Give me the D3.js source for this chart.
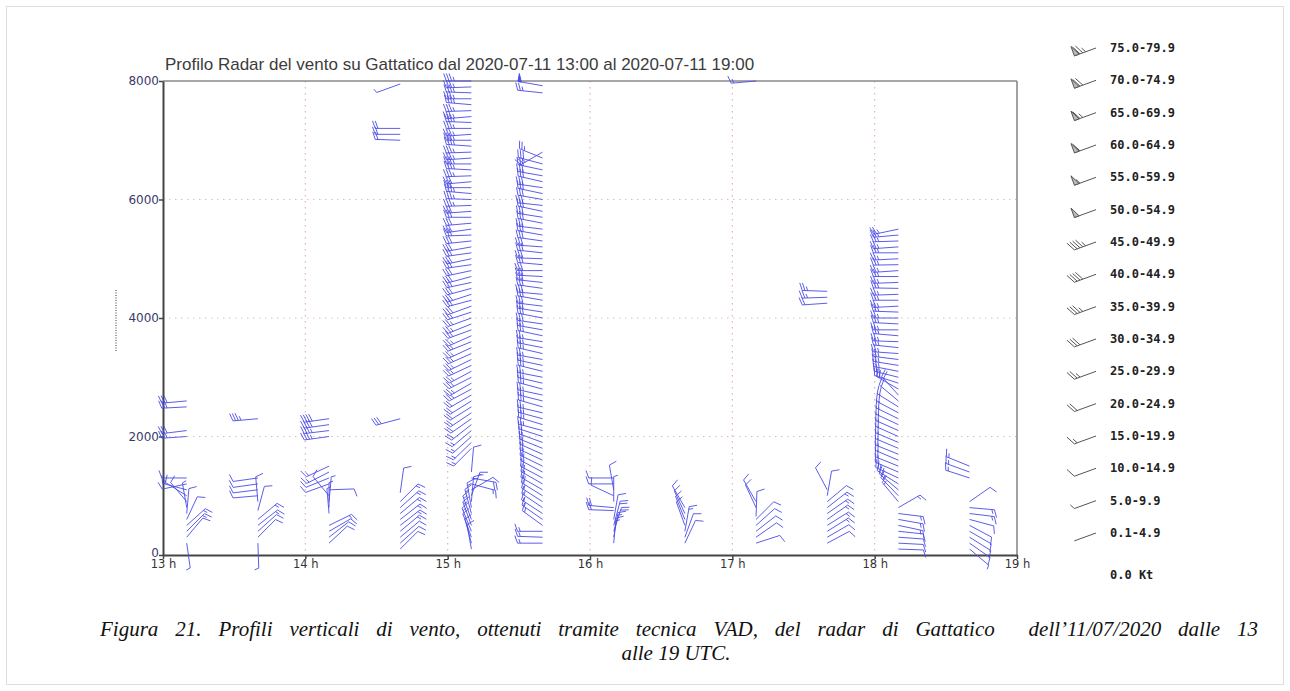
<!DOCTYPE html>
<html>
<head>
<meta charset="utf-8">
<script src="https://cdn.jsdelivr.net/npm/d3@7"></script>
<style>
  body { margin:0; background:#fff; }
  svg { display:block; }
  .tick text { font-family:"DejaVu Sans", sans-serif; }
</style>
</head>
<body>
<svg id="viz" width="1290" height="691"></svg>
<script>
// ---- data: VAD profiles, [height m, direction deg (from), speed kt]
const p1310 = [[2600,265,30],[2500,267,30],[2100,263,30],[2000,266,25],
  [1300,270,10],[1200,258,10],[1100,285,15],[1000,302,10],[900,320,10],[800,350,5],
  [700,5,10],[600,25,10],[500,48,15],[400,45,15],[300,40,10],[200,172,5]];
const p1340 = [[2300,265,35],[1300,262,10],[1200,262,10],[1100,263,10],[1000,265,10],
  [900,355,10],[750,15,10],[600,50,15],[500,52,15],[400,48,10],[300,45,10],[200,178,5]];
const p1410 = [[2300,262,40],[2200,262,40],[2100,263,35],[2000,262,35],
  [1500,245,15],[1400,243,15],[1300,248,10],[1200,250,10],[1100,88,10],[1000,320,10],
  [900,5,5],[800,0,5],[700,355,5],[500,64,15],[400,60,10],[300,52,10],[200,47,10]];
const p1440 = [[7950,250,5],[7200,270,20],[7100,270,20],[7000,272,20],[2300,255,30],
  [1050,8,10],[900,45,15],[800,48,15],[700,50,15],[600,52,15],[500,52,15],[400,50,15],
  [300,50,10],[200,48,10],[100,45,10]];
const p1510 = [[8000,270,35],[7900,268,35],[7800,272,35],[7700,270,35],[7600,275,35],
  [7500,268,35],[7400,265,35],[7300,272,35],[7200,270,35],[7100,266,35],[7000,270,35],
  [6900,274,35],[6800,268,35],[6700,266,35],[6600,270,35],[6500,273,35],[6400,268,35],
  [6300,265,30],[6200,270,30],[6100,275,35],[6000,272,35],[5900,268,35],[5800,266,30],
  [5700,270,30],[5600,265,30],[5500,262,30],[5400,268,30],[5300,264,30],[5200,260,30],
  [5100,262,30],[5000,258,30],[4900,262,30],[4800,258,30],[4700,255,30],[4600,258,30],
  [4500,255,30],[4400,252,30],[4300,255,30],[4200,250,30],[4100,252,25],[4000,250,25],
  [3900,248,25],[3800,250,25],[3700,246,25],[3600,248,25],[3500,245,25],[3400,246,25],
  [3300,244,25],[3200,245,25],[3100,242,25],[3000,243,25],[2900,240,25],[2800,242,25],
  [2700,240,20],[2600,238,20],[2500,238,20],[2400,236,20],[2300,235,20],[2200,232,20],
  [2100,230,15],[2000,228,15],[1900,226,15],[1800,225,15],
  [1400,5,10],[1300,100,20],[1200,105,15],[1100,60,10],[1000,20,15],[900,5,15],
  [800,350,15],[700,345,15],[600,340,15],[500,340,15],[400,338,15],[300,340,10],
  [200,345,10],[100,350,10]];
const p1540 = [[7920,280,50],[7800,276,25],
  [6800,240,25],[6700,292,25],[6600,285,30],[6500,282,30],[6400,280,30],[6300,283,30],
  [6200,278,30],[6100,282,30],[6000,280,30],[5900,276,30],[5800,282,30],[5700,279,30],
  [5600,281,30],[5500,277,30],[5400,280,30],[5300,278,30],[5200,274,30],[5100,276,30],
  [5000,272,30],[4900,275,30],[4800,270,30],[4700,273,30],[4600,276,30],[4500,278,30],
  [4400,275,30],[4300,280,30],[4200,277,30],[4100,279,30],[4000,281,30],[3900,278,30],
  [3800,280,25],[3700,282,25],[3600,279,25],[3500,281,25],[3400,283,25],[3300,280,25],
  [3200,282,25],[3100,284,25],[3000,281,25],[2900,283,25],[2800,285,25],[2700,282,25],
  [2600,284,25],[2500,286,25],[2400,283,25],[2300,285,25],[2200,287,25],[2100,285,25],
  [2000,288,20],[1900,290,20],[1800,292,20],[1700,294,20],[1600,295,20],[1500,296,20],
  [1400,298,20],[1300,298,20],[1200,300,20],[1100,300,20],[1000,302,20],[900,303,15],
  [800,304,15],[700,303,15],[600,305,15],[500,306,15],[400,270,15],[300,272,15],[200,270,15]];
const p1610 = [[1300,270,10],[1200,270,10],[1100,350,10],[1000,295,10],[900,0,5],
  [800,275,20],[750,272,20],[600,10,10],[500,15,20],[400,18,20],[300,10,15],[200,5,15]];
const p1640 = [[800,330,10],[700,335,10],[600,338,10],[500,340,10],[400,10,15],
  [300,20,10],[200,25,10]];
const p1710 = [[8000,265,15],[900,330,10],[800,335,10],[650,2,10],[600,45,10],
  [500,48,10],[400,52,10],[300,55,10],[200,72,10]];
const p1740 = [[4450,272,25],[4350,268,25],[4250,266,20],
  [1100,332,10],[1000,10,10],[900,50,10],[800,52,15],[700,55,15],[600,55,15],
  [500,58,15],[400,58,15],[300,60,10],[200,62,10]];
const p1810 = [[5500,258,25],[5400,265,25],[5300,268,25],[5200,266,25],[5100,270,25],
  [5000,267,25],[4900,269,25],[4800,266,25],[4700,270,25],[4600,268,25],[4500,271,25],
  [4400,268,25],[4300,270,25],[4200,267,25],[4100,272,25],[4000,270,25],[3900,273,25],
  [3800,270,25],[3700,275,25],[3600,272,25],[3500,276,25],[3400,274,25],[3300,277,25],
  [3200,279,25],[3100,281,25],[3000,284,25],[2900,288,25],[2800,300,20],[2700,318,20],
  [2600,310,20],[2500,302,20],[2400,298,20],[2300,296,20],[2200,295,20],[2100,294,20],
  [2000,294,20],[1900,293,20],[1800,293,20],[1700,292,20],[1600,293,20],[1500,292,20],
  [1400,293,20],[1300,295,20],[1200,302,20],[1100,310,20],[1000,316,15],[900,320,15],
  [800,60,15],[700,97,15],[600,100,15],[500,102,15],[400,96,10],[300,94,10],[200,93,10],[100,92,10]];
const p1840 = [[1500,292,15],[1400,290,15],[1300,288,15],
  [900,55,10],[800,95,15],[700,97,15],[600,105,10],[500,118,10],[400,120,10],
  [300,122,10],[200,125,10],[100,130,5]];

const profileTimes = ["13:10","13:40","14:10","14:40","15:10","15:40","16:10","16:40","17:10","17:40","18:10","18:40"];
const profileObs = [p1310,p1340,p1410,p1440,p1510,p1540,p1610,p1640,p1710,p1740,p1810,p1840];

const heightTicks = [0,2000,4000,6000,8000];
const legendSpeeds = [75,70,65,60,55,50,45,40,35,30,25,20,15,10,5,0.1];
const legendLabels = ["75.0-79.9","70.0-74.9","65.0-69.9","60.0-64.9","55.0-59.9","50.0-54.9",
  "45.0-49.9","40.0-44.9","35.0-39.9","30.0-34.9","25.0-29.9","20.0-24.9","15.0-19.9",
  "10.0-14.9","5.0-9.9","0.1-4.9"];

const titleText = "Profilo Radar del vento su Gattatico dal 2020-07-11 13:00 al 2020-07-11 19:00";
const captionLines = ["Figura 21. Profili verticali di vento, ottenuti tramite tecnica VAD, del radar di Gattatico  dell\u201911/07/2020 dalle 13",
  "alle 19 UTC."];

// ---- setup
const svg = d3.select("#viz");
const parseT = d3.timeParse("%H:%M");
const x = d3.scaleTime().domain([parseT("13:00"), parseT("19:00")]).range([163, 1017]);
const y = d3.scaleLinear().domain([0, 8000]).range([555, 81]);

svg.append("rect").attr("x",6.5).attr("y",6.5).attr("width",1277).attr("height",678)
  .attr("fill","none").attr("stroke","#dedede");

// grid
const grid = svg.append("g");
grid.selectAll("line.v").data(x.ticks(d3.timeHour.every(1)).slice(1,-1)).join("line")
  .attr("x1",d=>x(d)).attr("x2",d=>x(d)).attr("y1",y(8000)).attr("y2",y(0))
  .attr("stroke","#e0b4b4").attr("stroke-width",1.2).attr("stroke-dasharray","1.5,4.5");
grid.selectAll("line.h").data(heightTicks.slice(1,-1)).join("line")
  .attr("x1",x.range()[0]).attr("x2",x.range()[1]).attr("y1",d=>y(d)).attr("y2",d=>y(d))
  .attr("stroke","#d2c6b2").attr("stroke-width",1.2).attr("stroke-dasharray","1.5,4.5");

// frame top / right
svg.append("line").attr("x1",163).attr("x2",1017).attr("y1",y(8000)).attr("y2",y(8000))
  .attr("stroke","#8a8a8a").attr("stroke-width",1.6);
svg.append("line").attr("x1",1017).attr("x2",1017).attr("y1",y(8000)).attr("y2",y(0))
  .attr("stroke","#8a8a8a").attr("stroke-width",1.6);

// axes
const yAxis = svg.append("g").attr("transform","translate(163,0)")
  .call(d3.axisLeft(y).tickValues(heightTicks).tickSize(4).tickSizeOuter(0).tickFormat(d3.format("d")));
yAxis.select(".domain").attr("stroke","#444").attr("stroke-width",2);
yAxis.selectAll(".tick line").attr("stroke","#444").attr("stroke-width",1.5);
yAxis.selectAll(".tick text").attr("fill","#3a3a6a").attr("font-size",12).attr("x",-4)
  .attr("dy", d => d === 0 ? "0.1em" : "0.32em");

const xAxis = svg.append("g").attr("transform","translate(0,555)")
  .call(d3.axisBottom(x).ticks(d3.timeHour.every(1)).tickSize(4).tickSizeOuter(0).tickFormat(d3.timeFormat("%-H h")));
xAxis.select(".domain").attr("stroke","#444").attr("stroke-width",2);
xAxis.selectAll(".tick line").attr("stroke","#444").attr("stroke-width",1.5);
xAxis.selectAll(".tick text").attr("fill","#333").attr("font-size",11.5).attr("y",5);

// tiny y label
svg.append("line").attr("x1",116).attr("x2",116).attr("y1",290).attr("y2",352)
  .attr("stroke","#333").attr("stroke-dasharray","1,1.5");

svg.append("text").attr("x",165).attr("y",70).text(titleText)
  .attr("font-family","'Liberation Sans', Arial, sans-serif").attr("font-size",17).attr("fill","#3c3c3c");

// ---- wind barbs
function barb(g, sx, sy, dir, spd, o) {
  const r = dir*Math.PI/180, ux = Math.sin(r), uy = -Math.cos(r);
  const tx = sx + o.len*ux, ty = sy + o.len*uy;
  const fr = (dir + o.ang)*Math.PI/180, fx = Math.sin(fr), fy = -Math.cos(fr);
  let d = `M${sx},${sy}L${tx},${ty}`, tri = "";
  let s = spd < 5 ? 0 : Math.floor(spd/5)*5;
  const pen = Math.floor(s/50); s -= pen*50;
  const full = Math.floor(s/10), half = s % 10 >= 5;
  let pos = 0;
  const at = p => [tx - p*ux, ty - p*uy];
  for (let i=0;i<pen;i++) {
    const [ax,ay] = at(pos), [bx,by] = at(pos+o.pw);
    const px = ax + o.f*Math.sin(r+Math.PI/2), py = ay - o.f*Math.cos(r+Math.PI/2);
    tri += `M${ax},${ay}L${px},${py}L${bx},${by}Z`;
    pos += o.pw + 1;
  }
  for (let i=0;i<full;i++) {
    const [ax,ay] = at(pos);
    d += `M${ax},${ay}l${o.f*fx},${o.f*fy}`;
    pos += o.sp;
  }
  if (half) {
    const [ax,ay] = at(pos);
    d += `M${ax},${ay}l${o.f*0.55*fx},${o.f*0.55*fy}`;
  }
  g.append("path").attr("d",d).attr("fill","none").attr("stroke",o.color).attr("stroke-width",o.w);
  if (tri) g.append("path").attr("d",tri).attr("fill",o.fill).attr("stroke",o.color).attr("stroke-width",o.w);
}

const barbOpt = {len:25, f:8, sp:2.7, pw:3.5, ang:70, color:"#4b4be6", fill:"#4b4be6", w:0.9};
const barbG = svg.append("g");
profileTimes.forEach((t,i)=>{
  const sx = x(parseT(t));
  profileObs[i].forEach(([h,dir,spd])=> barb(barbG, sx, y(h), dir, spd, barbOpt));
});

// ---- legend
const legOpt = {len:23, f:10, sp:3, pw:5, ang:62, color:"#555", fill:"#bbb", w:1};
const leg = svg.append("g");
const legY = d3.scalePoint().domain(legendLabels).range([48, 533]);
legendLabels.forEach((lab,i)=>{
  const yy = legY(lab);
  barb(leg, 1096, yy, 250, legendSpeeds[i], legOpt);
  leg.append("text").attr("x",1110).attr("y",yy+4).text(lab)
    .attr("font-family","'DejaVu Sans Mono', monospace").attr("font-weight","bold")
    .attr("font-size",12).attr("fill","#222");
});
leg.append("text").attr("x",1110).attr("y",579).text("0.0 Kt")
  .attr("font-family","'DejaVu Sans Mono', monospace").attr("font-weight","bold")
  .attr("font-size",12).attr("fill","#222");

// ---- caption (first line justified like the document)
const cap = svg.append("g").attr("font-family","'Liberation Serif', 'Times New Roman', serif")
  .attr("font-style","italic").attr("font-size",21).attr("fill","#111");
const words = captionLines[0].split(" ");
const wEls = words.map(w => cap.append("text").attr("y",636).text(w));
const widths = wEls.map(e => e.node().getComputedTextLength());
const gap = (1258 - 100 - d3.sum(widths)) / (words.length - 1);
let cx = 100;
wEls.forEach((e,i)=>{ e.attr("x",cx); cx += widths[i] + gap; });
cap.append("text").attr("x",676).attr("y",660).attr("text-anchor","middle").text(captionLines[1]);
</script>
</body>
</html>
